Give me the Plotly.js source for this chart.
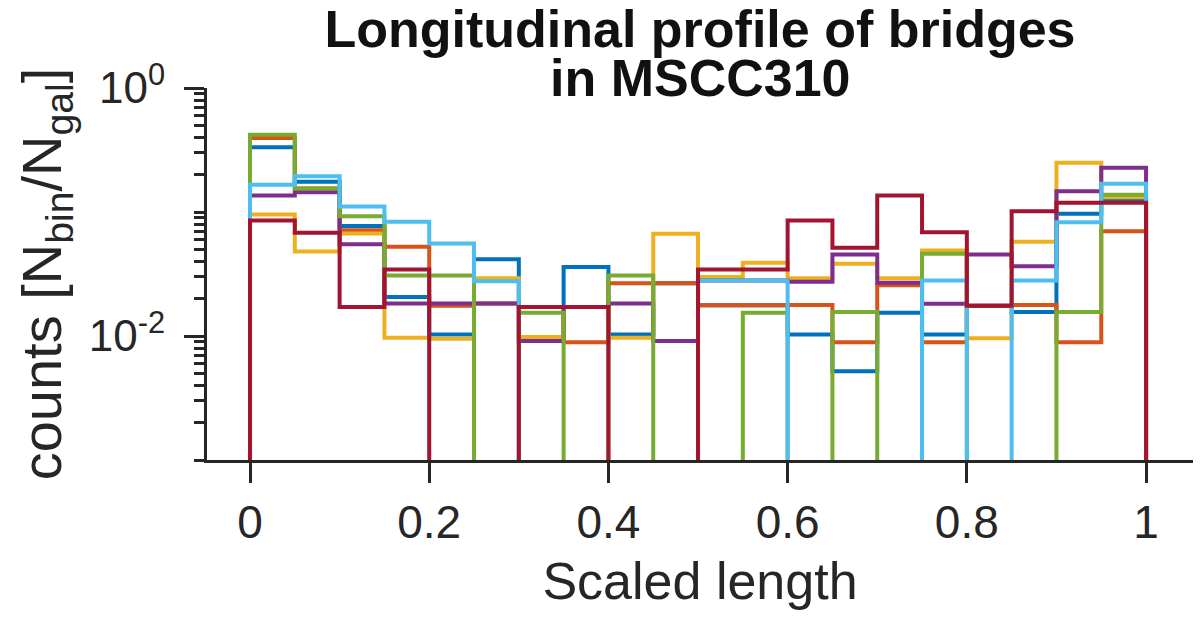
<!DOCTYPE html>
<html>
<head>
<meta charset="utf-8">
<script src="https://cdn.plot.ly/plotly-3.0.1.min.js"></script>
<style>
  html, body { margin: 0; padding: 0; background: #fff; }
  #chart { width: 1200px; height: 625px; }
</style>
</head>
<body>
<div id="chart"></div>
<script>
// bin edges of the stairs histogram (20 bins of 0.05)
const binEdges = [0, 0.05, 0.1, 0.15, 0.2, 0.25, 0.3, 0.35, 0.4, 0.45, 0.5,
                  0.55, 0.6, 0.65, 0.7, 0.75, 0.8, 0.85, 0.9, 0.95, 1.0];

// counts per bin, N_bin/N_gal (0 = empty bin)
const blueVals   = [0.333, 0.175, 0.077, 0.0206, 0.0103, 0.0415, 0.0171, 0.036, 0.0103, 0.0266,
                    0.0177, 0.0177, 0.0103, 0.0052, 0.0154, 0.0103, 0.0175, 0.0156, 0.097, 0.126];
const orangeVals = [0.395, 0.155, 0.0714, 0.0525, 0.0175, 0.0183, 0.0171, 0.0089, 0.0266, 0.0266,
                    0.0177, 0.0177, 0.0178, 0.0089, 0.0257, 0.0089, 0.0175, 0.0178, 0.0089, 0.07];
const yellowVals = [0.0955, 0.048, 0.0671, 0.0097, 0.0095, 0.0292, 0.0098, 0.0171, 0.0097, 0.0667,
                    0.0299, 0.039, 0.0292, 0.0383, 0.0292, 0.049, 0.0096, 0.0575, 0.249, 0.1316];
const purpleVals = [0.136, 0.144, 0.055, 0.0183, 0.0183, 0.0183, 0.0091, 0.0171, 0.0183, 0.0091,
                    0.028, 0.028, 0.0274, 0.0455, 0.0269, 0.0182, 0.0455, 0.0366, 0.147, 0.227];
const greenVals  = [0.42, 0.155, 0.0925, 0.0308, 0.0308, 0, 0.0154, 0, 0.0308, 0,
                    0, 0.0154, 0, 0.0156, 0, 0.046, 0, 0, 0.0156, 0.138];
const cyanVals   = [0.166, 0.194, 0.111, 0.0834, 0.0557, 0.0277, 0, 0, 0, 0,
                    0.028, 0.028, 0, 0, 0, 0.028, 0, 0.028, 0.0828, 0.169];
const redVals    = [0.0853, 0.068, 0.0171, 0.0344, 0, 0, 0.0171, 0.0171, 0, 0,
                    0.0344, 0.0344, 0.0853, 0.0515, 0.136, 0.0688, 0.0175, 0.1015, 0.119, 0.119];

const yTickVals = [0.01, 1];
const yTickText = ['10<sup>-2</sup>', '10<sup>0</sup>'];
const xTickVals = [0, 0.2, 0.4, 0.6, 0.8, 1];
const xTickText = ['0', '0.2', '0.4', '0.6', '0.8', '1'];

const titleLines = ['Longitudinal profile of bridges', 'in MSCC310'];

// MATLAB default line colours, in plot order
const series = [
    { vals: blueVals,   color: '#0072BD' },
    { vals: orangeVals, color: '#D95319' },
    { vals: yellowVals, color: '#EDB120' },
    { vals: purpleVals, color: '#7E2F8E' },
    { vals: greenVals,  color: '#77AC30' },
    { vals: cyanVals,   color: '#4DBEEE' },
    { vals: redVals,    color: '#A2142F' }
];

// empty bins sit below the axis floor so the outline drops to the axis
const FLOOR = 1e-5;

function stairsTrace(vals, color) {
    const n = vals.length;
    const ys = vals.map(v => v > 0 ? v : FLOOR);
    const x = [binEdges[0]].concat(binEdges.slice(0, n), [binEdges[n], binEdges[n]]);
    const y = [FLOOR].concat(ys, [ys[n - 1], FLOOR]);
    return {
        x: x, y: y,
        type: 'scatter', mode: 'lines',
        line: { shape: 'hv', color: color, width: 4 },
        hoverinfo: 'skip'
    };
}

// minor ticks of the log axis
const minorTicks = [];
for (let d = -3; d < 0; d++) {
    for (let k = 1; k <= 9; k++) {
        const v = k * Math.pow(10, d);
        if (v !== 0.01) minorTicks.push(v);
    }
}

const axisColor = '#262626';
const fontFamily = '"Liberation Sans", Arial, Helvetica, sans-serif';
const titleFont = { family: fontFamily, size: 52, weight: 'bold', color: '#111' };

const layout = {
    width: 1200, height: 625,
    paper_bgcolor: '#fff', plot_bgcolor: '#fff',
    margin: { l: 207, r: 7, t: 88, b: 165 },
    showlegend: false,
    font: { family: fontFamily, color: axisColor },
    title: {
        text: titleLines[0],
        font: titleFont,
        x: 0.5, xref: 'paper', xanchor: 'center',
        y: 0.954, yref: 'container', yanchor: 'middle'
    },
    // second title line, set tighter than plotly's own <br> spacing
    annotations: [{
        text: titleLines[1], font: titleFont, showarrow: false,
        xref: 'paper', x: 0.5, xanchor: 'center',
        yref: 'paper', y: 1.028, yanchor: 'middle'
    }],
    xaxis: {
        range: [-0.048, 1.0524],
        tickmode: 'array', tickvals: xTickVals, ticktext: xTickText,
        ticks: 'outside', ticklen: 20, tickwidth: 3, tickcolor: axisColor,
        tickfont: { size: 46, color: axisColor },
        showline: true, linewidth: 3, linecolor: axisColor,
        showgrid: false, zeroline: false,
        title: { text: 'Scaled length', font: { size: 52, color: axisColor }, standoff: 16 }
    },
    yaxis: {
        type: 'log', range: [-3, 0],
        tickmode: 'array', tickvals: yTickVals, ticktext: yTickText,
        ticks: 'outside', ticklen: 20, tickwidth: 3, tickcolor: axisColor,
        tickfont: { size: 44, color: axisColor },
        ticklabelstandoff: 10,
        minor: { tickmode: 'array', tickvals: minorTicks, ticks: 'outside',
                 ticklen: 10, tickwidth: 3, tickcolor: axisColor, showgrid: false },
        showline: true, linewidth: 3, linecolor: axisColor,
        showgrid: false, zeroline: false,
        title: { text: 'counts [N<sub>bin</sub>/N<sub>gal</sub>]',
                 font: { size: 56, color: axisColor }, standoff: 10 }
    }
};

Plotly.newPlot('chart', series.map(s => stairsTrace(s.vals, s.color)), layout,
    { staticPlot: true, displayModeBar: false });
</script>
</body>
</html>
